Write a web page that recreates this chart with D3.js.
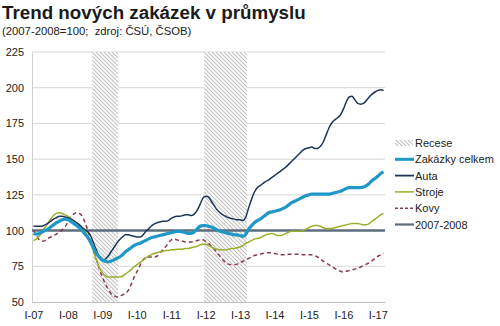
<!DOCTYPE html>
<html><head><meta charset="utf-8">
<script src="https://cdn.jsdelivr.net/npm/d3@7"></script>
<style>
body{margin:0;background:#fff;}
svg{display:block;font-family:"Liberation Sans",Arial,sans-serif;}
</style></head>
<body><svg id="c" width="500" height="326"></svg>
<script>
// ---- data ----
const startYear = 2007; // first month = January 2007, monthly data
const tickLabels = ["I-07","I-08","I-09","I-10","I-11","I-12","I-13","I-14","I-15","I-16","I-17"];
const yTicks = [50,75,100,125,150,175,200,225];
const recessions = [["2008-10","2009-06"],["2012-01","2013-03"]];
const baseValue = 100;

const zakazkyCelkem = [
 98,97.5,98,99,100,101,102.5,104,105.5,106.5,107.5,108,
 107.5,106.5,105,103.5,102,100,97.5,95,91.5,87.5,84,81.5,
 79.5,78.5,78,78.5,79.5,80.5,81.5,83,85,86.5,88,89.5,
 90.5,91,92,93,94,95,95.5,96,96.5,97,97.5,98,
 98.5,99,99.5,99.5,99,98.5,98,98,99,101,103,103.5,
 103.5,103,102.5,101.5,100.5,99.5,99,98.5,98,97.5,97,97,
 96.5,96,97.5,101,103.5,105.5,107,108,109.5,111,112.5,113,
 113.5,114,114.5,115.5,116.5,118,119.5,120.5,121.5,122.5,123.5,124.5,
 125,125.5,125.5,125.5,125.5,125.5,125.5,125.5,126,126.5,127,127.5,
 128.5,129.5,130,130,130,130,130,130.5,131.5,133,135,136.5,
 138,140,141];
const auta = [
 103,103,103,103,104,105,106.5,108,109,110,110,109.5,
 109,108,107,105.5,104,102,100.5,99,96,91,86,81,
 79.5,80,82,85,88,91,93.5,95.5,97,97,96.5,96,
 95.5,95.5,96.5,99,101,103,104.5,105.5,106,106.5,106.5,107,
 108.5,109.5,110,110,110.5,111,111,110.5,111.5,114,118,122.5,
 124,123.5,120.5,117.5,114.5,112.5,111,110,109,108.5,108,107.5,
 107.5,107,109.5,116,122,127,130,131.5,133,134.5,135.5,137,
 138.5,140,141.5,143,144.5,146.5,148.5,150.5,152.5,154.5,156.5,157.5,
 158,158.5,157.5,157.5,159,162,167,172,175.5,177.5,179,181,
 185,190,193.5,194,191.5,189,188.5,189,191,193.5,195.5,197,
 198,198.5,198];
const stroje = [
 93,94,96,99,102,105,108,110.5,112,112.5,112,111,
 110,108.5,107,105.5,104,102,99.5,96,91,85,79,74,
 70.5,68.5,67.5,67.5,67.5,67.5,67.5,68,69.5,71,72.5,74.5,
 76,77.5,79,80.5,82,83,84,84.5,85,85.5,86,86,
 86.5,86.5,87,87,87,87.5,87.5,88,88.5,89,90,90.5,
 90.5,89.5,88.5,87.5,87,86.5,86.5,86.5,87,87.5,87.5,88,
 88.5,89.5,91,92,93,94,94.5,95,96,97,97.5,98,
 97.5,96.5,96.5,97,98,99,99.5,99.5,99.5,99.5,100,101,
 102,103,103.5,103.5,103,102,101.5,101.5,101.5,102,102.5,103,
 103.5,104,104.5,105,105,105,104.5,104,104,105,106.5,108,
 109.5,111,112];
const kovy = [
 100,97,93.5,92.5,93,94.5,95.5,96.5,97.5,99,100.5,102.5,
 106,109.5,111.5,112.5,112,110,105.5,100,93,86,79.5,73,
 67.5,63,59,56,54.5,53.5,54,55,56,58,62,67,
 71,75,79,81,81.5,81.5,81.5,82,84,86.5,88.5,91,
 93.5,94,93.5,93,92.5,92,92,92,92.5,93,93.5,93.5,
 92.5,91,89,87,84.5,82,79.5,77.5,76.5,76,76,76.5,
 77.5,78.5,79.5,80.5,81.5,82.5,83,83.5,84,84.5,84.5,84.5,
 84,83.5,83,83,83,83.5,83.5,83.5,83.5,83.5,83,83,
 83,83,82.5,81.5,80,78.5,77.5,76,75,73.5,72.5,71.5,
 71,71.5,72,72.5,73,73.5,74.5,75.5,76.5,77.5,79,80.5,
 82,83,84];

// ---- chart ----
const svg = d3.select("#c");
const nMonths = zakazkyCelkem.length;
const pLeft = 32, pRight = 385, pTop = 52, pBottom = 302;
const x = d3.scaleLinear().domain([-0.5, nMonths - 0.5]).range([pLeft, pRight]);
const y = d3.scaleLinear().domain([50, 225]).range([pBottom, pTop]);
const monthIndex = s => { const [yy, mm] = s.split("-").map(Number); return (yy - startYear) * 12 + (mm - 1); };

// title
svg.append("text").attr("x", 2).attr("y", 19).attr("font-size", 18.8).attr("font-weight", "bold")
  .attr("fill", "#1a1a1a").text("Trend nových zakázek v průmyslu");
svg.append("text").attr("x", 2).attr("y", 35).attr("font-size", 11.3).attr("fill", "#1a1a1a")
  .style("white-space", "pre").text("(2007-2008=100;  zdroj: ČSÚ, ČSOB)");

// pattern
const defs = svg.append("defs");
const pat = defs.append("pattern").attr("id", "hatch").attr("patternUnits", "userSpaceOnUse")
  .attr("width", 4).attr("height", 4);
pat.append("rect").attr("width", 4).attr("height", 4).attr("fill", "#fff");
pat.append("path").attr("d", "M-1,-1L5,5M3,-1L5,1M-1,3L1,5").attr("stroke", "#c2c2c2").attr("stroke-width", 1.1);

// grid
svg.append("g").selectAll("line").data(yTicks.filter(t => t > 50)).join("line")
  .attr("x1", pLeft).attr("x2", pRight).attr("y1", d => y(d)).attr("y2", d => y(d))
  .attr("stroke", "#d6d6d6").attr("stroke-width", 1);

// recession bands
svg.append("g").selectAll("rect").data(recessions).join("rect")
  .attr("x", d => x(monthIndex(d[0]) - 0.5))
  .attr("width", d => x(monthIndex(d[1]) + 0.5) - x(monthIndex(d[0]) - 0.5))
  .attr("y", pTop).attr("height", pBottom - pTop).attr("fill", "url(#hatch)");

// axes
const yAxis = svg.append("g").attr("transform", `translate(${pLeft},0)`)
  .call(d3.axisLeft(y).tickValues(yTicks).tickSize(0).tickPadding(8));
yAxis.select(".domain").attr("stroke", "#d0d0d0");
yAxis.selectAll("text").attr("font-size", 11).attr("fill", "#222").attr("font-family", "Liberation Sans, Arial, sans-serif");

const xAxis = svg.append("g").attr("transform", `translate(0,${pBottom})`)
  .call(d3.axisBottom(x).tickValues(tickLabels.map((_, i) => i * 12)).tickFormat((d, i) => tickLabels[i]).tickSize(0).tickPadding(9));
xAxis.select(".domain").attr("stroke", "#bfbfbf");
xAxis.selectAll("text").attr("font-size", 11).attr("fill", "#222").attr("font-family", "Liberation Sans, Arial, sans-serif");

// lines
const line = d3.line().x((d, i) => x(i)).y(d => y(d)).curve(d3.curveMonotoneX);
const series = [
  {name: "Kovy", data: kovy, color: "#8b3a4c", width: 1.5, dash: "4,3"},
  {name: "Stroje", data: stroje, color: "#9aae2c", width: 1.5},
  {name: "Auta", data: auta, color: "#1d3658", width: 1.5},
  {name: "Zakázky celkem", data: zakazkyCelkem, color: "#1f98c8", width: 3.2},
];
svg.append("line").attr("x1", pLeft).attr("x2", pRight).attr("y1", y(baseValue)).attr("y2", y(baseValue))
  .attr("stroke", "#5c6c7c").attr("stroke-width", 2.5);
series.forEach(s => {
  svg.append("path").attr("d", line(s.data)).attr("fill", "none").attr("stroke", s.color)
    .attr("stroke-width", s.width).attr("stroke-dasharray", s.dash || null);
});

// legend
const legend = [
  {name: "Recese", type: "hatch"},
  {name: "Zakázky celkem", color: "#1f98c8", width: 3},
  {name: "Auta", color: "#1d3658", width: 1.8},
  {name: "Stroje", color: "#9aae2c", width: 1.5},
  {name: "Kovy", color: "#8b3a4c", width: 1.5, dash: "3,2"},
  {name: "2007-2008", color: "#5c6c7c", width: 2.2},
];
const lg = svg.append("g").attr("transform", "translate(395,143)");
legend.forEach((d, i) => {
  const g = lg.append("g").attr("transform", `translate(0,${i * 16.3})`);
  if (d.type === "hatch") {
    g.append("rect").attr("x", 0).attr("y", -3).attr("width", 18).attr("height", 6).attr("fill", "url(#hatch)");
  } else {
    g.append("line").attr("x1", 0).attr("x2", 19).attr("y1", 0).attr("y2", 0)
      .attr("stroke", d.color).attr("stroke-width", d.width).attr("stroke-dasharray", d.dash || null);
  }
  g.append("text").attr("x", 20).attr("y", 4).attr("font-size", 11).attr("fill", "#222").text(d.name);
});
</script></body></html>
